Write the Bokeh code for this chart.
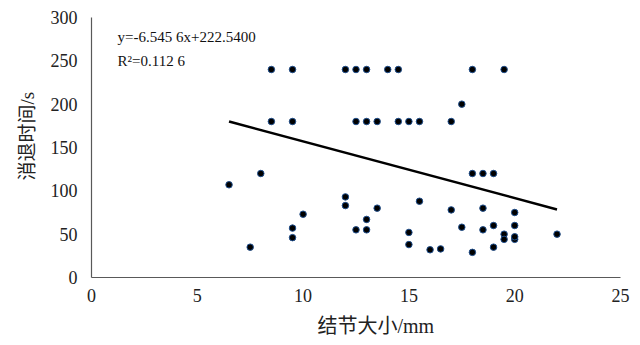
from bokeh.plotting import figure
from bokeh.models import Range1d, FixedTicker, Label, Title
from bokeh.embed import file_html
from bokeh.resources import INLINE

# Data
nodule_size_mm = [8.5, 9.5, 12, 12.5, 13, 14, 14.5, 18, 19.5,
                  8.5, 9.5, 12.5, 13, 13.5, 14.5, 15, 15.5, 17,
                  17.5,
                  6.5, 8, 12, 12, 10, 9.5, 9.5, 7.5, 12.5, 13, 13, 13.5, 15, 15,
                  15.5, 16, 16.5, 17, 17.5, 18, 18.5, 19, 18, 18.5, 18.5, 19, 19,
                  19.5, 19.5, 20, 20, 20, 20, 22]
resolve_time_s = [240, 240, 240, 240, 240, 240, 240, 240, 240,
                  180, 180, 180, 180, 180, 180, 180, 180, 180,
                  200,
                  107, 120, 93, 83, 73, 57, 46, 35, 55, 67, 55, 80, 52, 38,
                  88, 32, 33, 78, 58, 120, 120, 120, 29, 80, 55, 60, 35,
                  50, 44, 75, 60, 44, 47, 50]

slope = -6.5456
intercept = 222.54
x_ticks = [0, 5, 10, 15, 20, 25]
y_ticks = [0, 50, 100, 150, 200, 250, 300]
eq_text = "y=-6.545 6x+222.5400"
r2_text = "R\u00b2=0.112 6"
x_title = "结节大小/mm"
y_title = "消退时间/s"

SERIF = "Liberation Serif, Noto Sans CJK SC"

p = figure(width=632, height=344, output_backend="svg", toolbar_location=None,
           x_range=Range1d(0, 25), y_range=Range1d(0, 300),
           min_border_left=91, min_border_right=12, min_border_top=17,
           min_border_bottom=67)
p.outline_line_color = None
p.xgrid.visible = False
p.ygrid.visible = False
p.background_fill_color = "white"
p.border_fill_color = "white"

for ax in (p.xaxis, p.yaxis):
    ax.major_tick_line_color = None
    ax.minor_tick_line_color = None
    ax.major_tick_out = 0
    ax.major_tick_in = 0
    ax.axis_line_color = "#595959"
    ax.axis_line_width = 1.2
    ax.major_label_text_font = SERIF
    ax.major_label_text_font_size = "18px"
    ax.major_label_text_color = "#222222"

p.xaxis.ticker = FixedTicker(ticks=x_ticks)
p.yaxis.ticker = FixedTicker(ticks=y_ticks)
p.xaxis.major_label_standoff = 11
p.yaxis.major_label_standoff = 14

# trend line
xl = [min(nodule_size_mm), max(nodule_size_mm)]
yl = [slope * v + intercept for v in xl]
p.line(xl, yl, line_color="black", line_width=2.5)

p.scatter(nodule_size_mm, resolve_time_s, size=6.5, fill_color="black",
          line_color="#1f4e8c", line_width=1.0)

p.add_layout(Label(x=1.23, y=277, text=eq_text, text_font=SERIF,
                   text_font_size="15px", text_color="#111111",
                   text_baseline="middle"))
p.add_layout(Label(x=1.23, y=250, text=r2_text, text_font=SERIF,
                   text_font_size="15px", text_color="#111111",
                   text_baseline="middle"))

p.add_layout(Title(text=x_title, text_font=SERIF, text_font_size="20px",
                   text_color="#222222", text_font_style="normal",
                   align="left", offset=226, standoff=16), "below")
p.add_layout(Title(text=y_title, text_font=SERIF, text_font_size="19px",
                   text_color="#222222", text_font_style="normal",
                   align="left", offset=97, standoff=19), "left")

open("out.html", "w").write(file_html(p, INLINE))
